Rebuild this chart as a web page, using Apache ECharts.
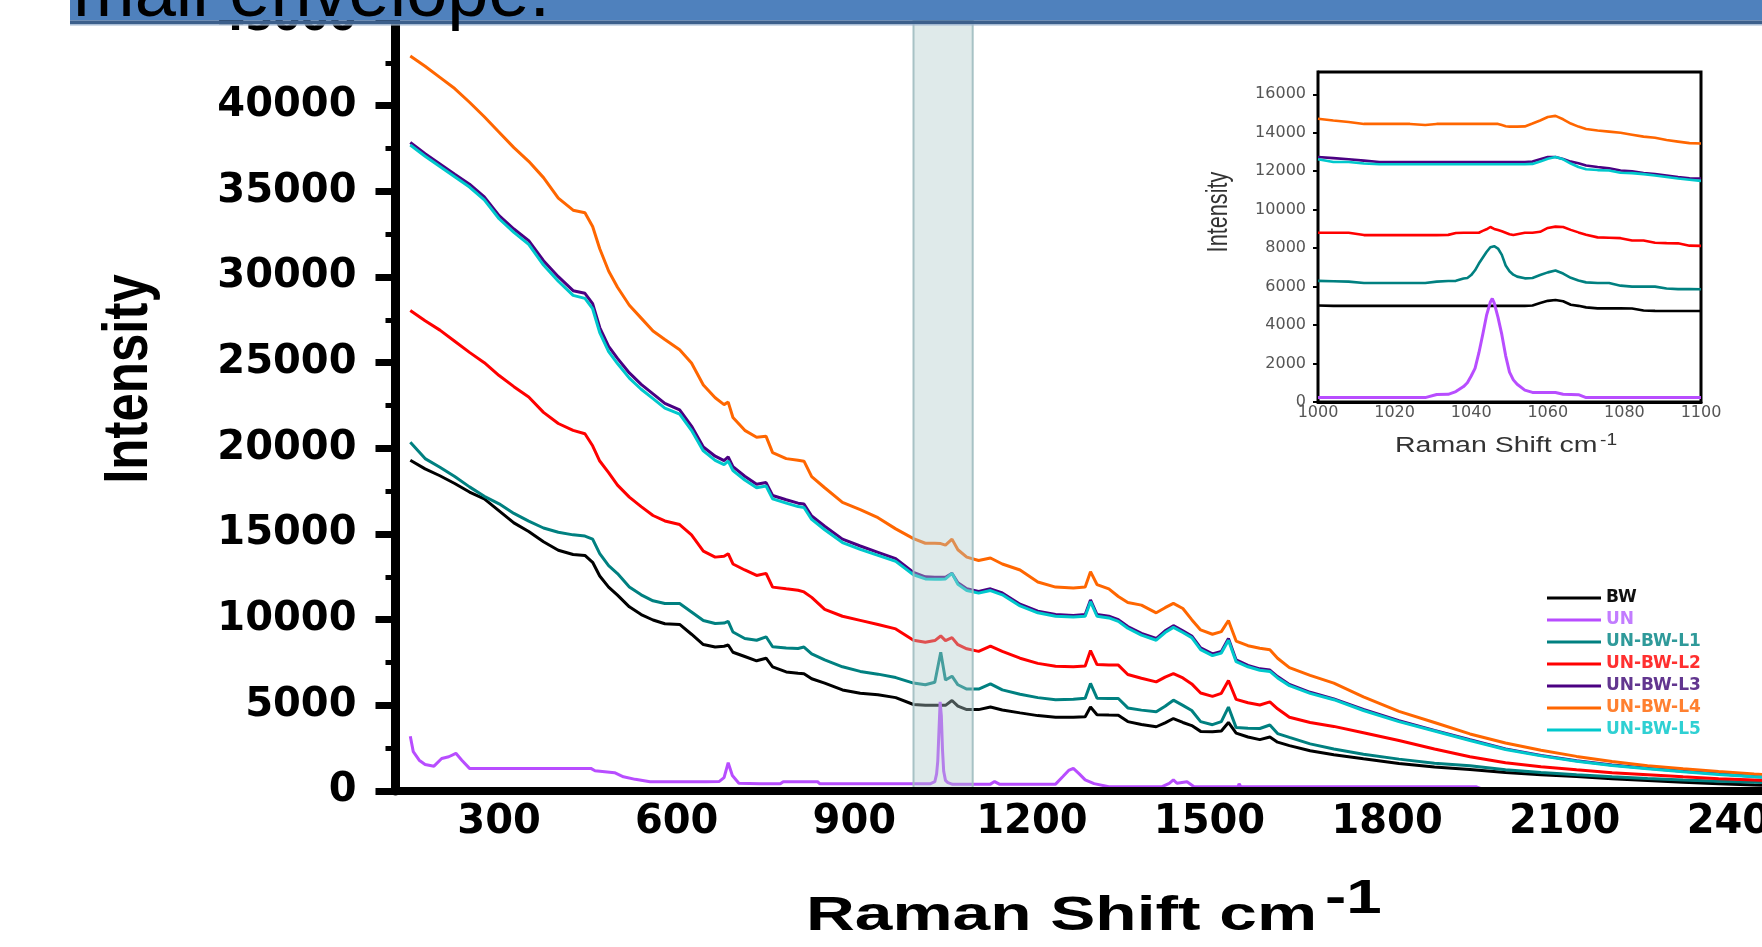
<!DOCTYPE html>
<html>
<head>
<meta charset="utf-8">
<title>Raman spectra</title>
<script src="https://cdn.jsdelivr.net/npm/echarts@6.0.0/dist/echarts.min.js"></script>
<style>
  html, body { margin: 0; padding: 0; overflow: hidden; background: #fff; width: 1762px; height: 947px; }
  #chart { width: 1900px; height: 947px; }
</style>
</head>
<body>
<div id="chart"></div>
<script>
// ---- series names and colours ----
const seriesNames = ['BW', 'UN', 'UN-BW-L1', 'UN-BW-L2', 'UN-BW-L3', 'UN-BW-L4', 'UN-BW-L5'];
const seriesColors = ['#000000', '#b84dff', '#008080', '#ff0000', '#4b0082', '#ff6600', '#00c8cc'];
const legendTextColors = ['#111111', '#c27cff', '#2f9a9a', '#ff3030', '#62368f', '#ff8030', '#2fd0d3'];

// ---- main spectra: Raman shift (cm-1) and intensity ----
const ramanShift = [
  150, 175, 200, 225, 250, 275, 300, 325, 350, 375,
  400, 425, 445, 458, 470, 485, 500, 520, 540, 560,
  580, 605, 625, 645, 665, 680, 687, 695, 715, 735,
  751, 762, 785, 805, 815, 828, 850, 880, 910, 940,
  970, 1000, 1020, 1036, 1046, 1054, 1065, 1075, 1090, 1110,
  1130, 1150, 1180, 1210, 1240, 1270, 1290, 1299, 1310, 1330,
  1346, 1362, 1385, 1410, 1425, 1439, 1455, 1470, 1485, 1505,
  1520, 1532, 1545, 1565, 1585, 1602, 1615, 1635, 1670, 1710,
  1760, 1820, 1880, 1940, 2000, 2060, 2120, 2180, 2240, 2300,
  2360, 2420, 2480
];

const bwIntensity = [
  19300, 18800, 18400, 17950, 17450, 17050, 16350, 15650, 15150, 14550,
  14050, 13800, 13750, 13350, 12550, 11900, 11430, 10750, 10300, 9980,
  9760, 9720, 9150, 8550, 8400, 8450, 8520, 8100, 7850, 7600,
  7750, 7250, 6950, 6870, 6850, 6550, 6300, 5900, 5700, 5620,
  5450, 5050, 5000, 5000, 5000, 5000, 5280, 4950, 4750, 4750,
  4900, 4730, 4560, 4400, 4310, 4300, 4330, 4900, 4450, 4430,
  4420, 4050, 3880, 3750, 3980, 4230, 4000, 3820, 3480, 3460,
  3500, 4000, 3380, 3150, 3000, 3150, 2850, 2650, 2350, 2120,
  1880, 1600, 1400, 1250, 1080, 950, 840, 720, 610, 510,
  430, 350, 290
];

const l1Intensity = [
  20350, 19400, 18900, 18350, 17750, 17200, 16760, 16200, 15750, 15350,
  15100, 14950, 14880, 14700, 13850, 13150, 12690, 11910, 11450, 11100,
  10940, 10940, 10450, 9950, 9780, 9800, 9900, 9280, 8900, 8800,
  9000, 8420, 8350, 8320, 8400, 8000, 7650, 7250, 6980, 6820,
  6620, 6300, 6200, 6350, 8100, 6480, 6700, 6200, 5950, 5950,
  6250, 5900, 5650, 5450, 5320, 5350, 5420, 6280, 5420, 5400,
  5400, 4850, 4720, 4620, 4950, 5300, 5000, 4700, 4050, 3870,
  4050, 4900, 3700, 3660, 3650, 3850, 3350, 3130, 2750, 2450,
  2150, 1860, 1620, 1480, 1240, 1080, 950, 830, 730, 640,
  570, 510, 450
];

const l2Intensity = [
  28050, 27450, 26900, 26250, 25600, 25000, 24250, 23600, 23000, 22100,
  21450, 21050, 20850, 20150, 19260, 18580, 17850, 17150, 16600, 16080,
  15760, 15550, 14950, 14000, 13650, 13700, 13850, 13250, 12900, 12580,
  12700, 11900, 11800, 11720, 11620, 11300, 10600, 10200, 9960, 9720,
  9460, 8800, 8680, 8780, 9050, 8780, 8950, 8540, 8300, 8150,
  8450, 8150, 7750, 7450, 7280, 7250, 7300, 8200, 7380, 7350,
  7350, 6800, 6580, 6370, 6650, 6850, 6600, 6250, 5720, 5520,
  5700, 6450, 5350, 5150, 5020, 5200, 4800, 4300, 4000, 3770,
  3400, 2950, 2450, 2000, 1650, 1420, 1240, 1070, 950, 830,
  720, 640, 560
];

const l3Intensity = [
  37850, 37200, 36600, 36000, 35420, 34680, 33580, 32800, 32120, 30950,
  30020, 29200, 29050, 28450, 27050, 25950, 25250, 24400, 23730, 23180,
  22620, 22250, 21300, 20080, 19540, 19280, 19500, 18930, 18370, 17900,
  18000, 17250, 17000, 16800, 16750, 16050, 15450, 14700, 14300, 13930,
  13560, 12760, 12500, 12480, 12480, 12480, 12700, 12150, 11800, 11650,
  11800, 11560, 10900, 10500, 10300, 10250, 10300, 11150, 10300, 10200,
  10000, 9600, 9200, 8900, 9350, 9650, 9350, 9050, 8350, 8000,
  8150, 8900, 7650, 7330, 7130, 7060, 6680, 6220, 5760, 5380,
  4760, 4100, 3540, 2990, 2460, 2080, 1770, 1520, 1330, 1150,
  1000, 850, 740
];

const l4Intensity = [
  42900, 42300, 41650, 41000, 40200, 39350, 38450, 37550, 36750, 35800,
  34600, 33900, 33750, 32950, 31650, 30350, 29400, 28350, 27600, 26850,
  26350, 25750, 24980, 23700, 22950, 22550, 22700, 21800, 21050, 20650,
  20700, 19750, 19400, 19300, 19250, 18350, 17700, 16850, 16420, 15950,
  15300, 14730, 14460, 14460, 14440, 14350, 14700, 14080, 13650, 13450,
  13600, 13250, 12900, 12200, 11900, 11850, 11900, 12800, 12050, 11800,
  11350, 11000, 10850, 10400, 10700, 10950, 10650, 10000, 9400, 9150,
  9300, 9950, 8750, 8480, 8330, 8250, 7750, 7200, 6750, 6300,
  5500, 4650, 4000, 3330, 2800, 2380, 2020, 1720, 1480, 1300,
  1140, 990, 860
];

const l5Intensity = [
  37700, 37050, 36450, 35850, 35250, 34500, 33400, 32600, 31900, 30700,
  29750, 28930, 28750, 28150, 26760, 25650, 24950, 24100, 23450, 22900,
  22350, 22000, 21050, 19850, 19300, 19050, 19250, 18700, 18150, 17700,
  17800, 17050, 16800, 16600, 16550, 15850, 15250, 14500, 14100, 13750,
  13400, 12620, 12380, 12360, 12360, 12380, 12700, 12060, 11700, 11550,
  11700, 11450, 10800, 10400, 10200, 10150, 10200, 11050, 10200, 10100,
  9900, 9500, 9100, 8800, 9250, 9550, 9250, 8950, 8250, 7900,
  8050, 8800, 7550, 7250, 7050, 6980, 6600, 6150, 5700, 5330,
  4700, 4050, 3500, 2950, 2420, 2050, 1740, 1490, 1300, 1120,
  970, 830, 720
];

// UN has its own sampling (narrow bands on a low background)
const unShift = [
  150, 155, 165, 175, 190, 203, 215, 227, 237, 250,
  300, 455, 462, 495, 510, 530, 555, 650, 672, 680,
  687, 694, 705, 740, 775, 780, 838, 842, 1000, 1028,
  1031, 1036, 1039, 1041, 1043, 1045, 1046, 1047, 1049, 1051,
  1054, 1058, 1066, 1070, 1130, 1137, 1145, 1240, 1252, 1262,
  1270, 1280, 1290, 1305, 1330, 1420, 1432, 1439, 1445, 1462,
  1474, 1548, 1550, 1553, 1950, 1960, 2480
];
const unIntensity = [
  3200, 2300, 1800, 1550, 1450, 1900, 2000, 2200, 1800, 1320,
  1320, 1320, 1180, 1070, 830, 680, 540, 540, 560, 780,
  1650, 900, 450, 420, 420, 540, 540, 420, 420, 420,
  400, 540, 1000, 1750, 3500, 5200, 5300, 4400, 2400, 1150,
  620, 490, 390, 400, 400, 550, 400, 400, 830, 1200,
  1320, 1000, 650, 430, 250, 250, 450, 650, 450, 540,
  250, 250, 420, 250, 250, 120, 100
];

// ---- inset: 1000-1100 cm-1 window ----
const insetShift = [
  1000, 1004, 1008, 1012, 1016, 1020, 1024, 1028, 1031, 1034,
  1036, 1038, 1039, 1040, 1041, 1042, 1043, 1044, 1045, 1045.5,
  1046, 1047, 1048, 1049, 1050, 1051, 1052, 1054, 1056, 1058,
  1060, 1062, 1064, 1066, 1068, 1070, 1073, 1076, 1079, 1082,
  1085, 1088, 1091, 1094, 1097, 1100
];
const insetBW = [
  5020, 5000, 5000, 5000, 5000, 5000, 5000, 5000, 5000, 5000,
  5000, 5000, 5000, 5000, 5000, 5000, 5000, 5000, 5000, 5000,
  5000, 5000, 5000, 5000, 5000, 5000, 5000, 5000, 5020, 5150,
  5260, 5300, 5240, 5060, 5000, 4920, 4870, 4870, 4870, 4860,
  4760, 4740, 4730, 4730, 4730, 4730
];
const insetUN = [
  230, 230, 230, 230, 230, 230, 230, 230, 390, 400,
  540, 800, 1000, 1350, 1750, 2550, 3500, 4500, 5200, 5380,
  5150, 4400, 3500, 2400, 1550, 1150, 920, 620, 500, 490,
  490, 490, 400, 390, 380, 230, 230, 230, 230, 230,
  230, 230, 230, 230, 230, 230
];
const insetL1 = [
  6300, 6280, 6260, 6190, 6190, 6190, 6190, 6190, 6260, 6290,
  6300, 6420, 6450, 6600, 6850, 7200, 7500, 7800, 8050, 8150,
  8100, 7980, 7650, 7100, 6800, 6620, 6520, 6430, 6450, 6600,
  6740, 6840, 6680, 6460, 6320, 6220, 6190, 6190, 6050, 6000,
  6000, 6000, 5900, 5870, 5870, 5860
];
const insetL2 = [
  8800, 8800, 8800, 8680, 8680, 8680, 8680, 8680, 8680, 8690,
  8790, 8800, 8800, 8800, 8800, 8800, 8900, 8980, 9100, 9120,
  9000, 8940, 8880, 8800, 8720, 8680, 8720, 8800, 8800, 8850,
  9050, 9120, 9100, 8950, 8820, 8700, 8560, 8540, 8520, 8400,
  8400, 8280, 8260, 8250, 8130, 8120
];
const insetL3 = [
  12740, 12680, 12620, 12550, 12480, 12480, 12480, 12480, 12480, 12480,
  12480, 12480, 12480, 12480, 12480, 12480, 12480, 12480, 12480, 12480,
  12480, 12480, 12480, 12480, 12480, 12480, 12480, 12480, 12500, 12620,
  12740, 12740, 12640, 12500, 12420, 12300, 12220, 12150, 12040, 12000,
  11900, 11850, 11780, 11700, 11630, 11620
];
const insetL4 = [
  14730, 14640, 14560, 14460, 14460, 14460, 14460, 14400, 14460, 14460,
  14460, 14460, 14460, 14460, 14460, 14460, 14460, 14460, 14460, 14460,
  14460, 14460, 14400, 14340, 14320, 14320, 14320, 14330, 14480, 14640,
  14820, 14880, 14700, 14480, 14320, 14200, 14120, 14060, 14000, 13900,
  13800, 13740, 13620, 13540, 13460, 13440
];
const insetL5 = [
  12620, 12480, 12480, 12400, 12360, 12360, 12360, 12360, 12360, 12360,
  12360, 12360, 12360, 12360, 12360, 12360, 12360, 12360, 12360, 12360,
  12360, 12360, 12360, 12360, 12360, 12360, 12360, 12360, 12380, 12500,
  12650, 12740, 12620, 12400, 12220, 12100, 12060, 12040, 11920, 11900,
  11850, 11780, 11700, 11620, 11560, 11500
];

// ---- ticks and the highlighted window ----
const mainShiftTicks = [300, 600, 900, 1200, 1500, 1800, 2100, 2400];
const insetIntensityTicks = [0, 2000, 4000, 6000, 8000, 10000, 12000, 14000, 16000];
const highlightWindow = [1000, 1100];

const pairs = (xs, ys) => xs.map((x, i) => [x, ys[i]]);
const plain = v => String(v);

const mainData = [
  pairs(ramanShift, bwIntensity),
  pairs(unShift, unIntensity),
  pairs(ramanShift, l1Intensity),
  pairs(ramanShift, l2Intensity),
  pairs(ramanShift, l3Intensity),
  pairs(ramanShift, l4Intensity),
  pairs(ramanShift, l5Intensity)
];
const insetData = [insetBW, insetUN, insetL1, insetL2, insetL3, insetL4, insetL5]
  .map(ys => pairs(insetShift, ys));

const mainSeries = mainData.map((data, i) => ({
  name: seriesNames[i], type: 'line', xAxisIndex: 0, yAxisIndex: 0,
  data, symbol: 'none', showSymbol: false, z: 2,
  lineStyle: { width: 3, color: seriesColors[i] },
  itemStyle: { color: seriesColors[i] }
}));
const insetSeries = insetData.map((data, i) => ({
  name: seriesNames[i], type: 'line', xAxisIndex: 1, yAxisIndex: 1,
  data, symbol: 'none', showSymbol: false, z: 2,
  lineStyle: { width: i === 1 ? 3 : 2.6, color: seriesColors[i] },
  itemStyle: { color: seriesColors[i] }
}));

// translucent band marking the inset window on the main axes
const bandSeries = {
  type: 'custom', xAxisIndex: 0, yAxisIndex: 0, z: 3, silent: true,
  data: [highlightWindow],
  renderItem(params, api) {
    const top = api.coord([api.value(0), 45000]);
    const bottom = api.coord([api.value(1), 0]);
    return {
      type: 'rect',
      shape: { x: top[0], y: top[1], width: bottom[0] - top[0], height: bottom[1] - top[1] },
      style: { fill: 'rgba(175,203,203,0.40)', stroke: 'rgba(160,188,192,0.9)', lineWidth: 2 }
    };
  }
};

const tickFont = { fontFamily: 'DejaVu Sans', fontWeight: 'bold', fontSize: 40, color: '#000' };
const insetFont = { fontFamily: 'DejaVu Sans', fontSize: 16, color: '#555' };

const option = {
  animation: false,
  backgroundColor: '#fff',
  grid: [
    { left: 395.5, top: 19, width: 1406, height: 772, containLabel: false },
    { left: 1318, top: 72, width: 383, height: 330, show: true, borderColor: '#000', borderWidth: 3, backgroundColor: '#fff', z: 1 }
  ],
  xAxis: [
    {
      type: 'value', gridIndex: 0, min: 125, max: 2500, z: 10,
      axisLine: { show: true, onZero: false, lineStyle: { color: '#000', width: 8 } },
      axisTick: { show: false },
      splitLine: { show: false },
      axisLabel: Object.assign({ customValues: mainShiftTicks, margin: 12, formatter: plain }, tickFont)
    },
    {
      type: 'value', gridIndex: 1, min: 1000, max: 1100, interval: 20,
      axisLine: { show: true, onZero: false, lineStyle: { color: '#000', width: 3 } },
      axisTick: { show: false },
      splitLine: { show: false },
      axisLabel: Object.assign({ margin: 3, formatter: plain }, insetFont)
    }
  ],
  yAxis: [
    {
      type: 'value', gridIndex: 0, min: 0, max: 45000, interval: 5000, z: 10,
      axisLine: { show: true, onZero: false, lineStyle: { color: '#000', width: 9 } },
      axisTick: { show: true, length: 20, lineStyle: { color: '#000', width: 7 } },
      minorTick: { show: true, splitNumber: 2, length: 10, lineStyle: { color: '#000', width: 5 } },
      splitLine: { show: false },
      minorSplitLine: { show: false },
      axisLabel: Object.assign({ margin: 39, padding: [0, 0, 6, 0], formatter: plain }, tickFont)
    },
    {
      type: 'value', gridIndex: 1, min: 0, max: 17160,
      axisLine: { show: true, onZero: false, lineStyle: { color: '#000', width: 3 } },
      axisTick: { show: true, length: 5, customValues: insetIntensityTicks, lineStyle: { color: '#000', width: 2 } },
      splitLine: { show: false },
      axisLabel: Object.assign({ customValues: insetIntensityTicks, margin: 12, formatter: plain }, insetFont)
    }
  ],
  legend: {
    orient: 'vertical', left: 1542, top: 582, padding: 5,
    itemWidth: 54, itemHeight: 3, itemGap: 0, icon: 'rect', selectedMode: false,
    textStyle: { fontFamily: 'DejaVu Sans', fontWeight: 'bold', fontSize: 17, lineHeight: 22 },
    data: seriesNames.map((name, i) => ({ name, textStyle: { color: legendTextColors[i] } }))
  },
  graphic: {
    elements: [
      // slide title bar
      { type: 'rect', z: 100, shape: { x: 70, y: -10, width: 1830, height: 30.5 }, style: { fill: '#4f81bd' } },
      { type: 'rect', z: 100, shape: { x: 70, y: 20.5, width: 1830, height: 3.8 }, style: { fill: '#3c5f8b' } },
      { type: 'rect', z: 100, shape: { x: 70, y: 24.3, width: 1830, height: 1.3 }, style: { fill: '#9db4d0' } },
      { type: 'text', z: 101, x: 73, y: -4.5,
        style: { text: 'mail envelope.', font: '74px "Liberation Sans", Arial, sans-serif', fill: '#000', align: 'left', verticalAlign: 'middle' } },
      // main axis titles
      { type: 'text', z: 50, x: 806, y: 916, scaleX: 1.38,
        style: { text: 'Raman Shift cm', font: 'bold 49px "Liberation Sans", Arial, sans-serif', fill: '#000', align: 'left', verticalAlign: 'middle' } },
      { type: 'text', z: 50, x: 1325, y: 899, scaleX: 1.3,
        style: { text: '-1', font: 'bold 49px "Liberation Sans", Arial, sans-serif', fill: '#000', align: 'left', verticalAlign: 'middle' } },
      { type: 'text', z: 50, x: 130, y: 379, rotation: Math.PI / 2, scaleY: 1.232,
        style: { text: 'Intensity', font: 'bold 51px "Liberation Sans", Arial, sans-serif', fill: '#000', align: 'center', verticalAlign: 'middle' } },
      // inset axis titles
      { type: 'text', z: 50, x: 1219, y: 212, rotation: Math.PI / 2, scaleY: 1.39,
        style: { text: 'Intensity', font: '21.7px "Liberation Sans", Arial, sans-serif', fill: '#333', align: 'center', verticalAlign: 'middle' } },
      { type: 'text', z: 50, x: 1395, y: 446.4, scaleX: 1.3,
        style: { text: 'Raman Shift cm', font: '21.9px "Liberation Sans", Arial, sans-serif', fill: '#333', align: 'left', verticalAlign: 'middle' } },
      { type: 'text', z: 50, x: 1600, y: 441, scaleX: 1.2,
        style: { text: '-1', font: '16px "Liberation Sans", Arial, sans-serif', fill: '#333', align: 'left', verticalAlign: 'middle' } }
    ]
  },
  series: mainSeries.concat([bandSeries]).concat(insetSeries)
};

const chart = echarts.init(document.getElementById('chart'), null, { renderer: 'canvas' });
chart.setOption(option);
</script>
</body>
</html>
